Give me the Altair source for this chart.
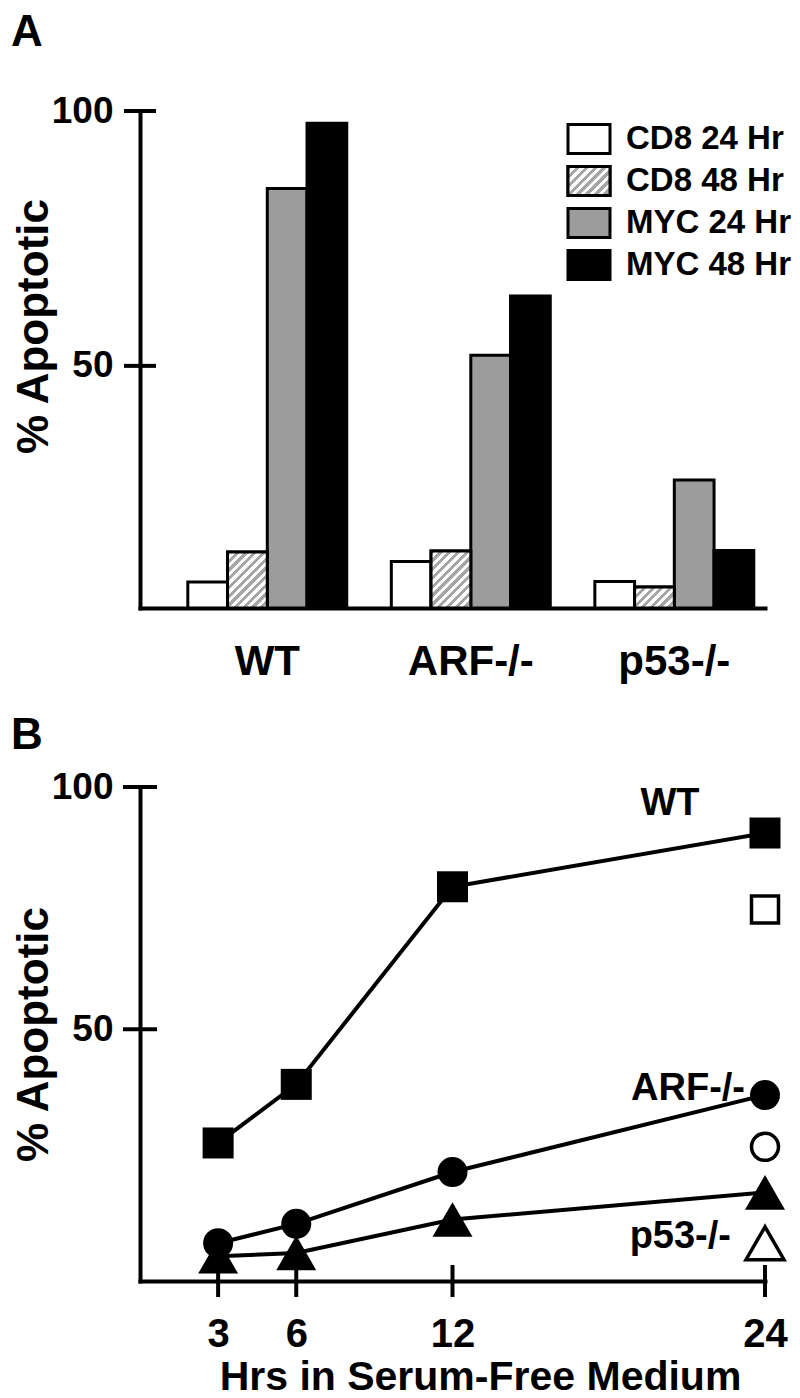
import altair as alt
import pandas as pd

FONT = "Liberation Sans"

# ---------------- Panel A data ----------------
groups = ["WT", "ARF-/-", "p53-/-"]
series = ["CD8 24 Hr", "CD8 48 Hr", "MYC 24 Hr", "MYC 48 Hr"]
cd8_24 = [7.6, 11.6, 7.7]
cd8_48 = [13.5, 13.7, 6.6]
myc_24 = [84.8, 52.1, 27.6]
myc_48 = [97.6, 63.7, 13.8]
series_fill = ["#ffffff", "#ffffff", "#9c9c9c", "#000000"]
hatched_series = "CD8 48 Hr"
y_ticks_a = [50, 100]

# ---------------- Panel B data ----------------
hours = [3, 6, 12, 24]
strains = ["WT", "ARF-/-", "p53-/-"]
wt_myc = [26.5, 38.6, 79.4, 90.5]
arf_myc = [5.8, 9.8, 20.5, 36.4]
p53_myc = [3.1, 3.8, 10.7, 16.3]
open_hour = 24
cd8_open = [74.7, 25.7, 5.8]          # WT, ARF-/-, p53-/- (open symbols)
y_ticks_b = [50, 100]
x_ticks_b = [3, 6, 12, 24]

# ---------------- layout / style ----------------
W = 625
HA = 497
HB = 494
BASE_A = 2.5
BASE_B = -2.0
PI, PO, ALIGN = 0.219, 0.145, 0.81
STEP = W / (len(groups) - PI + 2 * PO)
SUBW = STEP * (1 - PI) / len(series)
LEG_RANGE = [7, 175]
LEG_PI = 0.31
LEG_STEP = (LEG_RANGE[1] - LEG_RANGE[0]) / len(series)
LEG_H = LEG_STEP * (1 - LEG_PI)


def hatch_fill(w, h, period=9.0, color="#a6a6a6"):
    a = (w + h) / (w * w + h * h)
    n = max(1, int(round((w + h) / period)))
    stops = []
    for i in range(n):
        o0, o1, o2 = i / n, (i + 0.5) / n, (i + 1) / n
        stops += [
            {"offset": o0, "color": color},
            {"offset": o1, "color": color},
            {"offset": o1, "color": "#ffffff"},
            {"offset": o2, "color": "#ffffff"},
        ]
    return {"gradient": "linear", "x1": 0, "y1": 0, "x2": a * w, "y2": a * h, "stops": stops}


def panel_letter(letter, dy):
    return alt.Chart(pd.DataFrame({"k": [letter]})).mark_text(
        text=letter, align="left", baseline="top", font=FONT, fontSize=44,
        fontWeight="bold", color="black"
    ).encode(x=alt.value(-129), y=alt.value(dy))


rows = []
for s, vals in zip(series, [cd8_24, cd8_48, myc_24, myc_48]):
    for g, v in zip(groups, vals):
        rows.append({"group": g, "series": s, "value": v, "base": BASE_A})
bars_df = pd.DataFrame(rows)

x_scale_a = alt.Scale(domain=groups, paddingInner=PI, paddingOuter=PO, align=ALIGN)
xoff = alt.XOffset("series:N", sort=series,
                   scale=alt.Scale(domain=series, paddingInner=0, paddingOuter=0))
y_scale_a = alt.Scale(domain=[BASE_A, 100], nice=False, zero=False)
fill_scale = alt.Scale(domain=series, range=series_fill)

axis_x_a = alt.Axis(title=None, ticks=False, labelAngle=0, labelFont=FONT, labelFontSize=42,
                    labelFontWeight="bold", labelColor="black", labelPadding=33,
                    domainColor="black", domainWidth=4, domainCap="square")
axis_y_a = alt.Axis(values=y_ticks_a, ticks=False, grid=False, domainColor="black", domainWidth=4,
                    domainCap="square", labelFont=FONT, labelFontSize=37, labelFontWeight="bold",
                    labelColor="black", labelPadding=27, labelFlush=False, labelOverlap=False,
                    title="% Apoptotic", titleFont=FONT, titleFontSize=44, titleFontWeight="bold",
                    titleColor="black", titlePadding=-5, titleY=215)

bars = alt.Chart(bars_df).mark_bar(stroke="black", strokeWidth=3).encode(
    x=alt.X("group:N", sort=groups, scale=x_scale_a, axis=axis_x_a),
    xOffset=xoff,
    y=alt.Y("value:Q", scale=y_scale_a, axis=axis_y_a),
    y2="base:Q",
    fill=alt.Fill("series:N", scale=fill_scale, legend=None),
)

layers_a = [bars]
hatch_df = bars_df[bars_df["series"] == hatched_series]
for g, v in zip(groups, cd8_48):
    h_px = (v - BASE_A) / (100 - BASE_A) * HA
    layers_a.append(
        alt.Chart(hatch_df).transform_filter(alt.datum.group == g)
        .mark_bar(fill=hatch_fill(SUBW, h_px), stroke="black", strokeWidth=3)
        .encode(
            x=alt.X("group:N", sort=groups, scale=x_scale_a, axis=axis_x_a),
            xOffset=xoff,
            y=alt.Y("value:Q", scale=y_scale_a, axis=None),
            y2="base:Q",
        )
    )

ticks_a = alt.Chart(pd.DataFrame({"t": y_ticks_a})).mark_tick(
    orient="horizontal", size=32, thickness=4, color="black", opacity=1
).encode(y=alt.Y("t:Q", scale=y_scale_a, axis=None), x=alt.value(0))
layers_a.append(ticks_a)

leg_df = pd.DataFrame({"series": series})
leg_y = alt.Y("series:N", sort=series,
              scale=alt.Scale(domain=series, range=LEG_RANGE, paddingInner=LEG_PI,
                              paddingOuter=LEG_PI / 2), axis=None)
leg_rect = alt.Chart(leg_df).mark_rect(stroke="black", strokeWidth=3).encode(
    x=alt.value(428), x2=alt.value(470), y=leg_y,
    fill=alt.Fill("series:N", scale=fill_scale, legend=None),
)
leg_hatch = alt.Chart(leg_df).transform_filter(alt.datum.series == hatched_series).mark_rect(
    fill=hatch_fill(42, LEG_H), stroke="black", strokeWidth=3
).encode(x=alt.value(428), x2=alt.value(470), y=leg_y)
leg_text = alt.Chart(leg_df).mark_text(
    align="left", baseline="middle", font=FONT, fontSize=33, fontWeight="bold", color="black"
).encode(x=alt.value(486), y=leg_y, text="series:N")
layers_a += [leg_rect, leg_hatch, leg_text, panel_letter("A", -100)]

panel_a = alt.layer(*layers_a).resolve_scale(y="independent").properties(width=W, height=HA)

# ---------------- Panel B ----------------
x_scale_b = alt.Scale(domain=[0, 24], nice=False, zero=True)
y_scale_b = alt.Scale(domain=[BASE_B, 100], nice=False, zero=False)

axis_x_b = alt.Axis(values=x_ticks_b, ticks=False, grid=False, format="d", domainColor="black",
                    domainWidth=4, domainCap="square", labelFont=FONT, labelFontSize=40,
                    labelFontWeight="bold", labelColor="black", labelPadding=33,
                    labelFlush=False, labelOverlap=False,
                    title="Hrs in Serum-Free Medium", titleFont=FONT, titleFontSize=41,
                    titleFontWeight="bold", titleColor="black", titlePadding=3, titleX=340)
axis_y_b = alt.Axis(values=y_ticks_b, ticks=False, grid=False, domainColor="black", domainWidth=4,
                    domainCap="square", labelFont=FONT, labelFontSize=37, labelFontWeight="bold",
                    labelColor="black", labelPadding=27, labelFlush=False, labelOverlap=False,
                    title="% Apoptotic", titleFont=FONT, titleFontSize=44, titleFontWeight="bold",
                    titleColor="black", titlePadding=-5)

line_rows = []
for st, vals in zip(strains, [wt_myc, arf_myc, p53_myc]):
    for h, v in zip(hours, vals):
        line_rows.append({"strain": st, "hours": h, "value": v})
line_df = pd.DataFrame(line_rows)
open_df = pd.DataFrame({"strain": strains, "hours": [open_hour] * 3, "value": cd8_open})

lines = alt.Chart(line_df).mark_line(color="black", strokeWidth=4).encode(
    x=alt.X("hours:Q", scale=x_scale_b, axis=axis_x_b),
    y=alt.Y("value:Q", scale=y_scale_b, axis=axis_y_b),
    detail="strain:N",
)

layers_b = [lines]
shapes = ["square", "circle", "triangle-up"]
size_filled = [961, 900, 1600]
size_open = [729, 729, 1444]
for st, shp, sf, so in zip(strains, shapes, size_filled, size_open):
    layers_b.append(
        alt.Chart(line_df).transform_filter(alt.datum.strain == st)
        .mark_point(shape=shp, size=sf, filled=True, color="black", opacity=1, strokeWidth=0)
        .encode(x=alt.X("hours:Q", scale=x_scale_b, axis=axis_x_b),
                y=alt.Y("value:Q", scale=y_scale_b, axis=axis_y_b))
    )
    layers_b.append(
        alt.Chart(open_df).transform_filter(alt.datum.strain == st)
        .mark_point(shape=shp, size=so, filled=True, color="white", stroke="black",
                    strokeWidth=3.5, opacity=1)
        .encode(x=alt.X("hours:Q", scale=x_scale_b, axis=axis_x_b),
                y=alt.Y("value:Q", scale=y_scale_b, axis=axis_y_b))
    )

ticks_bx = alt.Chart(pd.DataFrame({"h": x_ticks_b})).mark_tick(
    orient="vertical", size=32, thickness=4, color="black", opacity=1
).encode(x=alt.X("h:Q", scale=x_scale_b, axis=axis_x_b), y=alt.value(HB))
ticks_by = alt.Chart(pd.DataFrame({"v": y_ticks_b})).mark_tick(
    orient="horizontal", size=34, thickness=4, color="black", opacity=1
).encode(y=alt.Y("v:Q", scale=y_scale_b, axis=axis_y_b), x=alt.value(0))
layers_b += [ticks_bx, ticks_by]

# strain labels, anchored to their 24 h symbols
lab_specs = [
    ("WT", line_df[(line_df.strain == "WT") & (line_df.hours == 24)], "center", -95, -29),
    ("ARF-/-", line_df[(line_df.strain == "ARF-/-") & (line_df.hours == 24)], "right", -20, -6),
    ("p53-/-", open_df[open_df.strain == "p53-/-"], "right", -34, -6),
]
for text, df, al, dx, dy in lab_specs:
    layers_b.append(
        alt.Chart(df).mark_text(text=text, align=al, baseline="middle", dx=dx, dy=dy,
                                font=FONT, fontSize=38, fontWeight="bold", color="black")
        .encode(x=alt.X("hours:Q", scale=x_scale_b, axis=axis_x_b),
                y=alt.Y("value:Q", scale=y_scale_b, axis=axis_y_b))
    )
layers_b.append(panel_letter("B", -73))

panel_b = alt.layer(*layers_b).properties(width=W, height=HB)

chart = alt.vconcat(panel_a, panel_b, spacing=32).configure_view(stroke=None).configure_axis(
    grid=False
).properties(background="white", padding={"top": 3, "left": 3, "right": 0, "bottom": 0})

chart.save("out.html", embed_options={"renderer": "svg", "actions": False})
